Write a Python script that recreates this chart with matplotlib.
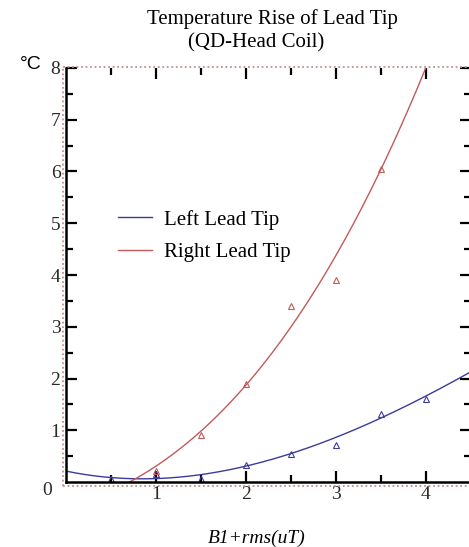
import numpy as np
import matplotlib
matplotlib.use("Agg")
import matplotlib.pyplot as plt
from matplotlib.lines import Line2D

# measured points (open triangles)
left_x = [0.5, 1.0, 1.5, 2.0, 2.5, 3.0, 3.5, 4.0]
left_y = [0.05, 0.15, 0.05, 0.33, 0.55, 0.72, 1.32, 1.60]
right_x = [1.0, 1.5, 2.0, 2.5, 3.0, 3.5]
right_y = [0.22, 0.90, 1.90, 3.40, 3.90, 6.05]

# trend curves
left_fit_x = [0.0, 0.5, 1.0, 1.5, 2.0, 2.5, 3.0, 3.5, 4.0, 4.5]
left_fit_y = [0.20, 0.10, 0.08, 0.13, 0.30, 0.55, 0.85, 1.25, 1.67, 2.12]
right_fit_x = [0.71, 1.0, 1.5, 2.0, 2.5, 3.0, 3.5, 4.0]
right_fit_y = [0.0, 0.32, 0.95, 1.90, 3.00, 4.35, 6.05, 8.00]

BLUE = "#3b3b9c"
RED = "#c25a5a"
DOT = "#c49090"
plt.rcParams["font.family"] = ["Liberation Serif", "DejaVu Serif"]

fig = plt.figure(figsize=(4.69, 5.47), dpi=100)
ax = fig.add_axes([0.1407, 0.1188, 0.863, 0.7569])

def smooth(xs, ys, lo, hi):
    c = np.polyfit(xs, ys, 3)
    xx = np.linspace(lo, hi, 300)
    return xx, np.polyval(c, xx)

xx, yy = smooth(left_fit_x, left_fit_y, 0, 4.5)
ax.plot(xx, yy, color=BLUE, lw=1.0)
xx, yy = smooth(right_fit_x, right_fit_y, right_fit_x[0], 4.05)
ax.plot(xx, yy, color=RED, lw=1.0)

ax.plot(left_x, left_y, ls="none", marker="^", ms=4, mfc="none", mec=BLUE, mew=0.8)
ax.plot(right_x, right_y, ls="none", marker="^", ms=4, mfc="none", mec=RED, mew=0.8)

ax.set_xlim(0, 4.5)
ax.set_ylim(0, 8)
ax.set_xticks([1, 2, 3, 4])
ax.set_xticks(np.arange(0.5, 4.5, 0.5), minor=True)
ax.set_yticks(range(1, 9))
ax.set_yticks(np.arange(0.5, 8, 0.5), minor=True)
ax.tick_params(which="both", direction="in", top=True, right=True, width=1.6,
               labelsize=14, colors="black")
ax.tick_params(axis="y", which="major", length=8, pad=4)
ax.tick_params(axis="y", which="minor", length=5)
ax.tick_params(axis="x", which="major", length=8, pad=3)
ax.tick_params(axis="x", which="minor", length=5)
for lab in ax.get_xticklabels() + ax.get_yticklabels():
    lab.set_color("#2a2a2a")

for s in ["left", "bottom"]:
    ax.spines[s].set_linewidth(1.8)
ax.spines["top"].set_visible(False)
ax.spines["right"].set_visible(False)

# dotted outer frame lines
dots = dict(color=DOT, ls=(0, (1, 1.5)), lw=1.3)
fig.add_artist(Line2D([0.134, 1.0], [0.111, 0.111], **dots))
fig.add_artist(Line2D([0.134, 0.134], [0.111, 0.878], **dots))
fig.add_artist(Line2D([0.134, 1.0], [0.878, 0.878], **dots))

fig.text(0.101, 0.103, "0", fontsize=14, color="#2a2a2a", ha="center", va="center")
fig.text(0.043, 0.882, "°C", fontsize=14, family="Liberation Sans", ha="left", va="center")

fig.text(0.58, 0.966, "Temperature Rise of Lead Tip", fontsize=15, ha="center", va="center")
fig.text(0.546, 0.922, "(QD-Head Coil)", fontsize=15, ha="center", va="center")
fig.text(0.548, 0.016, "B1+rms(uT)", fontsize=14, style="italic", ha="center", va="center")

handles = [Line2D([], [], color=BLUE, lw=1.0), Line2D([], [], color=RED, lw=1.0)]
ax.legend(handles, ["Left Lead Tip", "Right Lead Tip"], loc="upper left",
          bbox_to_anchor=(0.083, 0.703), frameon=False, fontsize=15,
          handlelength=1.6, handletextpad=0.6, labelspacing=0.62)

fig.savefig("out.png", dpi=100)
